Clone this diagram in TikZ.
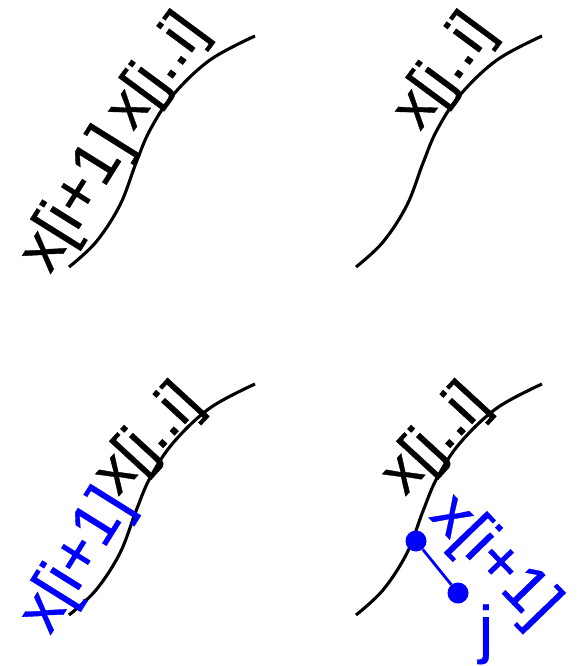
\documentclass[tikz,border=0pt]{standalone}
\usepackage{fontspec}
\setmainfont{Liberation Sans}
\newfontfamily\lblfont{Liberation Sans}[FakeBold=0.6]
\begin{document}
\begin{tikzpicture}[x=1pt,y=-1pt,
  sig/.style={line width=3.1pt},
  lbl/.style={inner sep=0pt, anchor=base west, font=\lblfont\fontsize{64}{76}\selectfont},
  rng/.style={inner sep=0pt, anchor=base west, font=\lblfont\fontsize{61}{72}\selectfont},
  hl/.style={text=blue},
  bdot/.style={circle, fill=blue, inner sep=0pt, minimum size=21pt},
  blink/.style={draw=blue, line width=2.8pt}]
\useasboundingbox (0,0) rectangle (576,666);
\newcommand\sigpath{plot[smooth, tension=0.6] coordinates {(0,0) (27,-25) (51,-62) (67,-104) (81,-137) (104,-172) (141,-207) (186,-231)}}
% panel 1
\begin{scope}[shift={(69,267)}]
  \draw[sig] \sigpath;
  \node[lbl, rotate=58] (a1) at (-19,8) {x[i+1]};
  \node[rng, rotate=53.5] (b1) at (64,-135) {x[j..i]};
\end{scope}
% panel 2
\begin{scope}[shift={(356,267)}]
  \draw[sig] \sigpath;
  \node[rng, rotate=53.5] (b2) at (64,-135) {x[j..i]};
\end{scope}
% panel 3
\begin{scope}[shift={(69,615)}]
  \draw[sig] \sigpath;
  \node[lbl, hl, rotate=58] (a3) at (-19,21) {x[i+1]};
  \node[rng, rotate=47.4] (b3) at (49,-118) {x[j..i]};
\end{scope}
% panel 4
\begin{scope}[shift={(356,615)}]
  \draw[sig] \sigpath;
  \node[rng, rotate=47.4] (b4) at (49,-118) {x[j..i]};
  \node[lbl, hl, rotate=-46] (a4) at (72,-98) {x[i+1]};
  \node[bdot] (d1) at (60,-74) {};
  \node[bdot] (d2) at (102,-22) {};
  \draw[blink] (d1) -- (d2);
  \node[inner sep=0pt, anchor=base, hl, font=\lblfont\fontsize{64}{76}\selectfont] (j4) at (130,36) {j};
\end{scope}
\end{tikzpicture}
\end{document}
